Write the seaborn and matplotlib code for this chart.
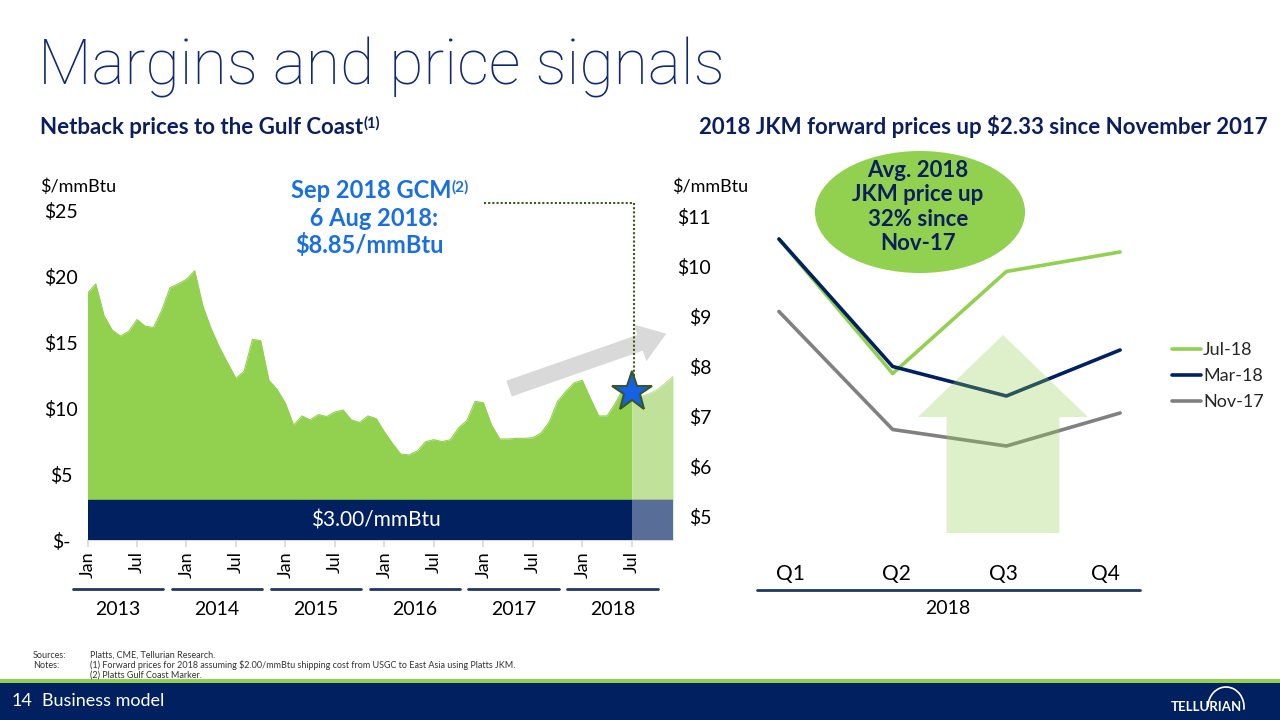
import numpy as np
import pandas as pd
import seaborn as sns
import matplotlib
matplotlib.use("Agg")
import matplotlib.pyplot as plt
from matplotlib.patches import Rectangle, Ellipse, FancyArrow, Arc

# ---------------- data ----------------
netback_actual = [18.7, 19.4, 17.0, 15.9, 15.45, 15.8, 16.7, 16.2, 16.1, 17.4, 19.1, 19.4,
                  19.75, 20.4, 17.7, 16.0, 14.6, 13.4, 12.25, 12.8, 15.2, 15.1, 12.1, 11.4,
                  10.35, 8.7, 9.4, 9.1, 9.5, 9.35, 9.7, 9.85, 9.1, 8.9, 9.4, 9.2,
                  8.2, 7.3, 6.5, 6.45, 6.75, 7.45, 7.6, 7.45, 7.6, 8.5, 9.05, 10.5,
                  10.4, 8.7, 7.65, 7.65, 7.7, 7.7, 7.75, 8.1, 8.95, 10.5, 11.25, 11.9,
                  12.1, 10.7, 9.4, 9.4, 10.35, 11.5, 11.2]
netback_forward = [11.2, 10.85, 11.05, 11.35, 11.85, 12.4]
shipping_cost = 3.00
years = ["2013", "2014", "2015", "2016", "2017", "2018"]
month_ticks = ["Jan", "Jul"] * 6
left_yticks = [0, 5, 10, 15, 20, 25]
left_ylabels = ["$-", "$5", "$10", "$15", "$20", "$25"]

quarters = ["Q1", "Q2", "Q3", "Q4"]
jkm_jul18 = [10.54, 7.85, 9.89, 10.28]
jkm_mar18 = [10.54, 7.99, 7.40, 8.32]
jkm_nov17 = [9.09, 6.73, 6.40, 7.06]
right_yticks = [5, 6, 7, 8, 9, 10, 11]
right_ylabels = ["$5", "$6", "$7", "$8", "$9", "$10", "$11"]

# ---------------- style ----------------
NAVY = "#0b1f5c"
BAND = "#002060"
GREEN = "#92d050"
LIGHTGREEN = "#bfe19a"
BLUE = "#1a6fe0"

sns.set_theme(style="white")
plt.rcParams["font.family"] = ["Lato", "DejaVu Sans"]

W, H = 1280, 720
fig = plt.figure(figsize=(12.8, 7.2), dpi=100)

def fx(px):
    return px / W

def fy(py):
    return 1 - py / H

# ---------------- left chart ----------------
n_act = len(netback_actual)
df_act = pd.DataFrame({"m": np.arange(n_act), "v": netback_actual})
df_fwd = pd.DataFrame({"m": np.arange(n_act - 1, n_act - 1 + len(netback_forward)),
                       "v": netback_forward})
xmax = df_fwd["m"].iloc[-1]
ytop = (540 - 200) / 13.2

ax1 = fig.add_axes([fx(87.5), fy(540), fx(673) - fx(87.5), fy(200) - fy(540)])
ax1.fill_between(df_act["m"], 0, df_act["v"], color=GREEN, lw=0, zorder=1)
ax1.fill_between(df_fwd["m"], 0, df_fwd["v"], color=LIGHTGREEN, lw=0, zorder=1)
sns.lineplot(data=df_act, x="m", y="v", ax=ax1, color=GREEN, lw=0.8, zorder=2)
sns.lineplot(data=df_fwd, x="m", y="v", ax=ax1, color=LIGHTGREEN, lw=0.8, zorder=2)
ax1.axhspan(0, shipping_cost, color=BAND, zorder=3)
ax1.add_patch(Rectangle((n_act - 1, 0), xmax - (n_act - 1), shipping_cost,
                        facecolor="white", alpha=0.35, lw=0, zorder=4))
ax1.text(xmax / 2 - 0.5, shipping_cost / 2, "$3.00/mmBtu", color="white", fontsize=15,
         ha="center", va="center", zorder=5)
ax1.set_xlim(0, xmax)
ax1.set_ylim(0, ytop)
ax1.set_xlabel("")
ax1.set_ylabel("")
for s in ["top", "right", "left"]:
    ax1.spines[s].set_visible(False)
ax1.spines["bottom"].set_color("#d9d9d9")
ax1.set_xticks(np.arange(0, 72, 6))
ax1.set_xticklabels(month_ticks, rotation=90, fontsize=13, color="black")
ax1.tick_params(axis="x", length=5, color="#d9d9d9", direction="out", pad=3, bottom=True)
ax1.set_yticks(left_yticks)
ax1.set_yticklabels(left_ylabels, fontsize=14, color="black", ha="center")
ax1.tick_params(axis="y", length=0, pad=19)

# year groups
tr1 = matplotlib.transforms.blended_transform_factory(ax1.transData, ax1.transAxes)
for k, yr in enumerate(years):
    x0, x1 = 12 * k - 1.8, 12 * k + 9.2
    ax1.plot([x0, x1], [-0.143, -0.143], color="#1f3864", lw=2, transform=tr1, clip_on=False)
    ax1.text((x0 + x1) / 2, -0.205, yr, transform=tr1, ha="center", va="center",
             fontsize=14, color="black")

# star marker for GCM
ax1.plot([n_act - 1], [netback_actual[-1]], marker="*", markersize=30,
         markerfacecolor="#1560e6", markeredgecolor="#385723", markeredgewidth=1.5,
         zorder=8, clip_on=False)
# dotted leader
yl = (540 - 203) / 13.2
ax1.plot([48.1, n_act - 1 + 0.25, n_act - 1 + 0.25], [yl, yl, netback_actual[-1] + 0.6],
         color="#3d5a1e", lw=1.5, ls=(0, (1, 1)), zorder=7, clip_on=False)
# gray trend arrow
ax1.annotate("", xy=(70.5, 15.7), xytext=(50.8, 11.4),
             arrowprops=dict(arrowstyle="simple,head_length=1.0,head_width=1.4,tail_width=0.6",
                             color="#d9d9d9", lw=0, mutation_scale=20), zorder=6)

# annotation text
t1 = fig.text(fx(371), fy(190), "Sep 2018 GCM", color=BLUE, fontsize=17, fontweight="bold",
              ha="center", va="center")
fig.text(fx(371), fy(218), " 6 Aug 2018:", color=BLUE, fontsize=17, fontweight="bold",
         ha="center", va="center")
fig.text(fx(369), fy(245), "$8.85/mmBtu", color=BLUE, fontsize=17, fontweight="bold",
         ha="center", va="center")
plt.annotate("(2)", xy=(1.0, 0.95), xycoords=t1, color=BLUE, fontsize=11,
             fontweight="bold", ha="left", va="top", annotation_clip=False)

# ---------------- right chart ----------------
df_r = pd.DataFrame({
    "q": list(range(4)) * 3,
    "price": jkm_jul18 + jkm_mar18 + jkm_nov17,
    "curve": ["Jul-18"] * 4 + ["Mar-18"] * 4 + ["Nov-17"] * 4,
})
ax2 = fig.add_axes([fx(757), fy(540), fx(1140) - fx(757), fy(200) - fy(540)])
sns.lineplot(data=df_r, x="q", y="price", hue="curve", ax=ax2,
             palette={"Jul-18": GREEN, "Mar-18": BAND, "Nov-17": "#808080"},
             hue_order=["Jul-18", "Mar-18", "Nov-17"], lw=2.6, zorder=3)
ax2.add_patch(FancyArrow(1.97, 4.66, 0, 3.96, width=0.994, head_width=1.495,
                         head_length=1.64, length_includes_head=True,
                         facecolor=GREEN, alpha=0.3, lw=0, zorder=5))
ax2.set_xlim(-0.193, 3.175)
ax2.set_ylim(4.52, 11.32)
ax2.set_xlabel("")
ax2.set_ylabel("")
for s in ["top", "right", "left", "bottom"]:
    ax2.spines[s].set_visible(False)
ax2.set_xticks([0.105, 1.03, 1.97, 2.87])
ax2.set_xticklabels(quarters, fontsize=15, color="black")
ax2.tick_params(axis="x", length=0, pad=17)
ax2.set_yticks(right_yticks)
ax2.set_yticklabels(right_ylabels, fontsize=14, color="black")
ax2.tick_params(axis="y", length=0, pad=33)
leg = ax2.legend(loc="upper left", bbox_to_anchor=(fx(1156), fy(326)),
                 bbox_transform=fig.transFigure, frameon=False, fontsize=13,
                 handlelength=1.6, handletextpad=0.1, labelspacing=0.55)
for h in leg.get_lines():
    h.set_linewidth(2.6)

fig.add_artist(plt.Line2D([fx(757), fx(1140)], [fy(590), fy(590)], color="#1f3864", lw=2))
fig.text(fx(948), fy(608), "2018", fontsize=14, ha="center", va="center", color="black")

# ellipse callout
fig.add_artist(Ellipse((fx(920), fy(212)), width=210 / W, height=122 / H,
                       transform=fig.transFigure, facecolor=GREEN, edgecolor="none"))
fig.text(fx(918), fy(207), "Avg. 2018\nJKM price up\n32% since\nNov-17", fontsize=16,
         fontweight="bold", color=NAVY, ha="center", va="center", linespacing=1.18)

# ---------------- titles ----------------
fig.text(fx(38), fy(68), "Margins and price signals", fontsize=45, color="#102a6e",
         ha="left", va="center", fontweight="light", family=["Roboto", "Lato", "DejaVu Sans"])
st = fig.text(fx(40), fy(127), "Netback prices to the Gulf Coast", fontsize=16,
              fontweight="bold", color=NAVY, ha="left", va="center")
plt.annotate("(1)", xy=(1.0, 1.0), xycoords=st, color=NAVY, fontsize=10.5,
             fontweight="bold", ha="left", va="top", annotation_clip=False)
fig.text(fx(1268), fy(127), "2018 JKM forward prices up $2.33 since November 2017",
         fontsize=16, fontweight="bold", color=NAVY, ha="right", va="center")
fig.text(fx(40), fy(187), "$/mmBtu", fontsize=13, color="black", ha="left", va="center")
fig.text(fx(672), fy(187), "$/mmBtu", fontsize=13, color="black", ha="left", va="center")

# ---------------- footer ----------------
fig.text(fx(33), fy(655), "Sources:", fontsize=6.5, color="#333333", va="center")
fig.text(fx(90), fy(655), "Platts, CME, Tellurian Research.", fontsize=6.5, color="#333333", va="center")
fig.text(fx(33), fy(665), "Notes:", fontsize=6.5, color="#333333", va="center")
fig.text(fx(90), fy(665), "(1) Forward prices for 2018 assuming $2.00/mmBtu shipping cost from USGC to East Asia using Platts JKM.",
         fontsize=6.5, color="#333333", va="center")
fig.text(fx(90), fy(675), "(2) Platts Gulf Coast Marker.", fontsize=6.5, color="#333333", va="center")

fig.add_artist(Rectangle((0, 0), 1, fy(683), transform=fig.transFigure,
                         facecolor=BAND, edgecolor="none"))
fig.add_artist(Rectangle((0, fy(683)), 1, 4 / H, transform=fig.transFigure,
                         facecolor=GREEN, edgecolor="none"))
fig.text(fx(12), fy(701), "14", fontsize=13, color="white", va="center")
fig.text(fx(42), fy(701), "Business model", fontsize=13, color="white", va="center")
fig.text(fx(1206), fy(707), "TELLURIAN", fontsize=9.5, color="white", va="center",
         ha="center", fontweight="bold")
fig.add_artist(Arc((fx(1226), fy(707)), width=36 / W, height=40 / H, theta1=-15, theta2=180,
                   transform=fig.transFigure, color="white", lw=1.2))

fig.savefig("out.png", dpi=100)
